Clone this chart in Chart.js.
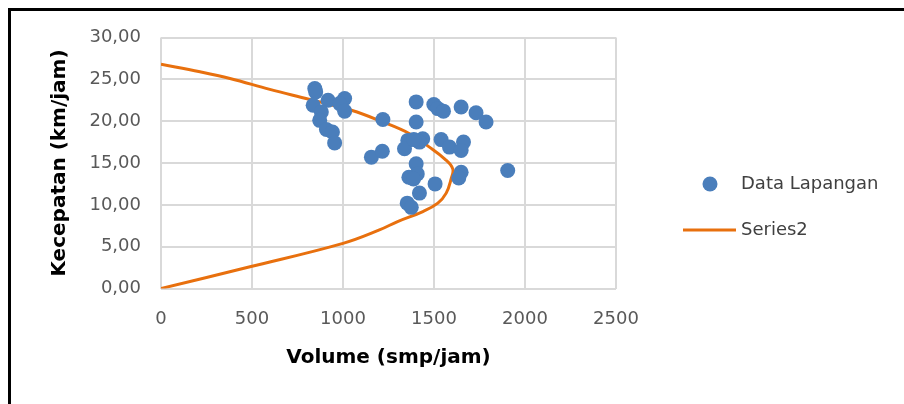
<!DOCTYPE html>
<html>
<head>
<meta charset="utf-8">
<script src="https://cdn.jsdelivr.net/npm/chart.js@4.4.1/dist/chart.umd.min.js"></script>
<style>
    html, body { margin: 0; padding: 0; background: #fff; }
    #wrap { position: relative; width: 904px; height: 404px; }
    #frame { position: absolute; left: 8px; top: 8px; right: 0; bottom: 0; border-left: 3px solid #000; border-top: 3px solid #000; pointer-events: none; }
</style>
</head>
<body>
<div id="wrap">
    <canvas id="chart" width="904" height="404"></canvas>
    <div id="frame"></div>
</div>
<script>
// Field data (volume smp/jam, speed km/jam)
const volumeData = [845, 850, 836, 918, 1009, 982, 1009, 881, 872, 909, 942, 954,
    1219, 1156, 1216, 1402, 1402, 1356, 1338, 1438, 1420, 1389, 1402, 1408,
    1362, 1387, 1420, 1506, 1353, 1375, 1499, 1521, 1552, 1649, 1731, 1786,
    1539, 1585, 1662, 1649, 1649, 1636, 1905];
const speedData = [23.9, 23.5, 21.9, 22.5, 22.7, 22.1, 21.2, 21.1, 20.1, 19.0, 18.7, 17.4,
    20.2, 15.7, 16.4, 22.3, 19.9, 17.7, 16.7, 17.9, 17.5, 17.8, 14.9, 13.7,
    13.3, 13.1, 11.4, 12.5, 10.2, 9.7, 22.0, 21.5, 21.2, 21.7, 21.0, 19.9,
    17.8, 16.9, 17.5, 16.5, 13.9, 13.2, 14.1];

// Series2 curve points
const curveVolume = [0, 489, 1000, 1200, 1300, 1439, 1521, 1567, 1594, 1603, 1558, 1475, 1366, 1219, 1046, 817, 598, 379, 214, 0];
const curveSpeed = [0, 2.6, 5.4, 7.0, 8.0, 9.2, 10.2, 11.4, 13.1, 14.3, 15.5, 16.9, 18.5, 19.9, 21.3, 22.6, 23.8, 25.1, 25.9, 26.8];

const xTicks = [0, 500, 1000, 1500, 2000, 2500];
const yTicks = [0, 5, 10, 15, 20, 25, 30];

const seriesNames = ['Data Lapangan', 'Series2'];
const blue = '#4A7EBB';
const orange = '#E8700E';

const toPoints = (xs, ys) => xs.map((x, i) => ({ x: x, y: ys[i] }));

// Legend drawn to the right, like the Excel one
const sideLegend = {
    id: 'sideLegend',
    afterDraw(chart) {
        const c = chart.ctx;
        const ds = chart.data.datasets;
        c.save();
        c.font = '18px "DejaVu Sans"';
        c.textBaseline = 'middle';

        c.beginPath();
        c.fillStyle = ds[0].backgroundColor;
        c.arc(710, 184, 7.5, 0, Math.PI * 2);
        c.fill();
        c.fillStyle = '#404040';
        c.fillText(ds[0].label, 741, 184);

        c.beginPath();
        c.strokeStyle = ds[1].borderColor;
        c.lineWidth = 3;
        c.moveTo(683, 230);
        c.lineTo(736, 230);
        c.stroke();
        c.fillText(ds[1].label, 741, 230);
        c.restore();
    }
};

const ctx = document.getElementById('chart').getContext('2d');
const chart = new Chart(ctx, {
    type: 'scatter',
    data: {
        datasets: [{
            label: seriesNames[0],
            data: toPoints(volumeData, speedData),
            backgroundColor: blue,
            borderColor: blue,
            pointRadius: 7.5,
            pointBorderWidth: 0,
            order: 0
        }, {
            label: seriesNames[1],
            data: toPoints(curveVolume, curveSpeed),
            showLine: true,
            borderColor: orange,
            backgroundColor: orange,
            borderWidth: 3,
            pointRadius: 0,
            tension: 0.4,
            order: 1
        }]
    },
    options: {
        responsive: false,
        animation: false,
        layout: { padding: { left: 44, right: 288, top: 37.5, bottom: 30 } },
        plugins: {
            legend: { display: false },
            tooltip: { enabled: false }
        },
        scales: {
            x: {
                type: 'linear',
                min: 0,
                max: 2500,
                afterFit: s => { s.height = 85.5; },
                afterBuildTicks: s => { s.ticks = xTicks.map(v => ({ value: v })); },
                ticks: {
                    color: '#595959',
                    padding: 20,
                    font: { family: 'DejaVu Sans', size: 18 },
                    callback: v => String(v)
                },
                grid: { color: '#D9D9D9', lineWidth: 2, drawTicks: false },
                border: { display: false },
                title: { display: true, text: 'Volume (smp/jam)', color: '#000', font: { family: 'DejaVu Sans', size: 20, weight: 'bold' } }
            },
            y: {
                min: 0,
                max: 30,
                afterFit: s => { s.width = 117; },
                afterBuildTicks: s => { s.ticks = yTicks.map(v => ({ value: v })); },
                ticks: {
                    color: '#595959',
                    padding: 20,
                    font: { family: 'DejaVu Sans', size: 18 },
                    callback: v => v.toFixed(2).replace('.', ',')
                },
                grid: { color: '#D9D9D9', lineWidth: 2, drawTicks: false },
                border: { display: false },
                title: { display: true, text: 'Kecepatan (km/jam)', color: '#000', font: { family: 'DejaVu Sans', size: 20, weight: 'bold' } }
            }
        }
    },
    plugins: [sideLegend]
});
</script>
</body>
</html>
